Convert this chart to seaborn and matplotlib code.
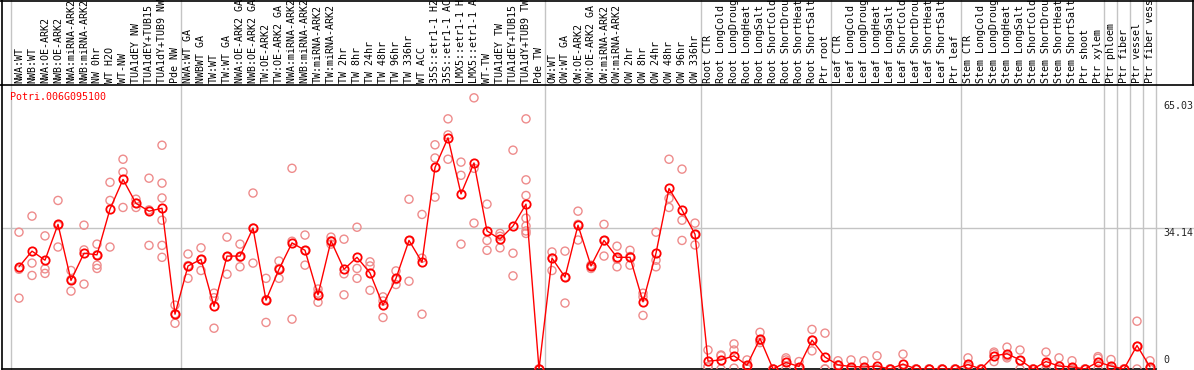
import numpy as np
import pandas as pd
import matplotlib
matplotlib.use("Agg")
import matplotlib.pyplot as plt
import matplotlib.transforms as mtransforms
from matplotlib.lines import Line2D
import seaborn as sns

gene = "Potri.006G095100"

samples = [
    "NWA:WT", "NWB:WT", "NWA:OE-ARK2", "NWB:OE-ARK2", "NWA:miRNA-ARK2", "NWB:miRNA-ARK2",
    "NW 0hr", "WT H2O", "WT-NW", "TUA1dEY NW", "TUA1dEY+TUB15 NW", "TUA1dY+TUB9 NW", "Pde NW",
    "NWA:WT GA", "NWBWT GA", "TW:WT", "TW:WT GA", "NWA:OE-ARK2 GA", "NWB:OE-ARK2 GA",
    "TW:OE-ARK2", "TW:OE-ARK2 GA", "NWA:miRNA-ARK2 GA", "NWB:miRNA-ARK2 GA", "TW:miRNA-ARK2",
    "TW:miRNA-ARK2 GA", "TW 2hr", "TW 8hr", "TW 24hr", "TW 48hr", "TW 96hr", "TW 336hr",
    "WT ACC", "35S::etr1-1 H2O", "35S::etr1-1 ACC", "LMX5::etr1-1 H2O", "LMX5::etr1-1 ACC",
    "WT-TW", "TUA1dEY TW", "TUA1dEY+TUB15 TW", "TUA1dY+TUB9 TW", "Pde TW",
    "OW:WT", "OW:WT GA", "OW:OE-ARK2", "OW:OE-ARK2 GA", "OW:miRNA-ARK2", "OW:miRNA-ARK2 GA",
    "OW 2hr", "OW 8hr", "OW 24hr", "OW 48hr", "OW 96hr", "OW 336hr",
    "Root CTR", "Root LongCold", "Root LongDrought", "Root LongHeat", "Root LongSalt",
    "Root ShortCold", "Root ShortDrought", "Root ShortHeat", "Root ShortSalt", "Ptr root",
    "Leaf CTR", "Leaf LongCold", "Leaf LongDrought", "Leaf LongHeat", "Leaf LongSalt",
    "Leaf ShortCold", "Leaf ShortDrought", "Leaf ShortHeat", "Leaf ShortSalt", "Ptr leaf",
    "Stem CTR", "Stem LongCold", "Stem LongDrought", "Stem LongHeat", "Stem LongSalt",
    "Stem ShortCold", "Stem ShortDrought", "Stem ShortHeat", "Stem ShortSalt", "Ptr shoot",
    "Ptr xylem", "Ptr phloem", "Ptr fiber", "Ptr vessel", "Ptr fiber vessel",
]

means = [
    24.8, 28.6, 26.4, 35.1, 21.5, 28.1, 27.7, 38.8, 46.0, 40.2, 38.3, 39.0, 13.3,
    25.0, 26.6, 15.2, 27.4, 27.4, 34.2, 16.7, 24.2, 30.6, 28.8, 18.0, 31.1,
    24.2, 27.1, 23.3, 15.5, 22.0, 31.2, 25.9, 48.9, 56.1, 42.5, 50.0,
    33.5, 31.5, 34.7, 40.0, 0.0,
    26.9, 22.3, 34.9, 25.0, 31.2, 27.1, 27.1, 16.3, 28.1, 43.8, 38.6, 32.7,
    1.9, 2.2, 3.2, 0.9, 7.4, 0.0, 1.6, 0.6, 7.0, 2.9,
    1.0, 0.6, 0.5, 0.7, 0.0, 1.2, 0.0, 0.0, 0.0, 0.0,
    1.1, 0.0, 3.2, 3.7, 2.2, 0.0, 1.8, 0.7, 0.5, 0.0,
    1.7, 0.7, 0.0, 5.7, 0.5,
]

replicates = [
    [33.2, 24.2, 17.2], [37.1, 25.7, 22.7], [32.3, 24.3, 23.2], [40.9, 34.8, 29.6],
    [23.9, 21.7, 18.9], [34.9, 28.9, 20.6], [30.3, 27.7, 25.2, 24.4], [45.3, 40.9, 29.6],
    [50.9, 47.8, 39.2], [41.2, 40.2, 39.2], [46.3, 38.6, 30.0],
    [54.3, 45.1, 41.5, 36.1, 30.0, 27.1], [15.5, 13.4, 11.1],
    [27.9, 25.1, 22.0], [29.4, 26.5, 23.9], [18.4, 17.3, 9.9], [32.0, 27.2, 23.0],
    [30.3, 27.1, 24.8], [42.7, 34.2, 25.7], [22.0, 16.8, 11.3], [26.2, 24.4, 22.0],
    [48.7, 31.0, 12.1], [32.5, 28.7, 25.2], [19.4, 18.4, 16.2], [32.0, 31.1, 30.3],
    [31.5, 23.1, 18.0], [34.4, 24.4, 22.0], [26.0, 25.0, 19.1], [17.5, 16.5, 12.5],
    [23.8, 21.7, 20.5], [41.2, 31.1, 21.3], [37.5, 26.9, 13.3], [54.4, 51.2, 41.7],
    [60.7, 56.8, 50.9], [50.2, 47.0, 30.3], [65.8, 48.7, 35.4],
    [40.0, 31.2, 28.8], [32.9, 32.2, 29.4], [53.1, 28.1, 22.6],
    [60.7, 45.9, 42.1, 36.6, 34.7, 33.5, 32.9], [0.0, 0.0, 0.0],
    [28.4, 26.9, 23.9], [28.6, 22.3, 16.0], [38.3, 35.1, 31.3], [25.2, 25.0, 24.4],
    [35.1, 31.1, 27.4], [29.8, 26.7, 24.8], [28.8, 27.3, 25.2], [18.4, 17.5, 13.0],
    [33.2, 26.4, 24.8], [50.9, 41.4, 39.2], [48.5, 36.1, 31.2], [35.4, 32.6, 30.1],
    [4.6, 0.6, 0.5], [3.4, 3.2, 0.0], [6.1, 4.6, 0.2], [2.2, 0.5, 0.0], [8.9, 6.9, 6.4],
    [0.0, 0.0, 0.0], [2.7, 2.2, 0.0], [1.8, 0.0, 0.0], [9.6, 7.0, 4.4], [8.7, 0.0, 0.0],
    [2.0, 1.0, 0.0], [2.2, 0.0, 0.0], [2.0, 0.0, 0.0], [3.2, 0.0, 0.0], [0.0, 0.0, 0.0],
    [3.6, 0.0, 0.0], [0.0, 0.0, 0.0], [0.0, 0.0, 0.0], [0.0, 0.0, 0.0], [0.0, 0.0, 0.0],
    [2.7, 0.6, 0.0], [0.0, 0.0, 0.0], [4.1, 3.7, 1.8], [5.3, 3.1, 2.7], [4.6, 2.0, 0.0],
    [0.0, 0.0, 0.0], [4.1, 1.3, 0.0], [2.7, 0.0, 0.0], [2.0, 0.0, 0.0], [0.0, 0.0, 0.0],
    [3.0, 2.6, 0.0], [2.3, 0.0, 0.0], [0.0, 0.0, 0.0], [11.6, 5.5, 0.0], [2.0, 0.0, 0.0],
]

# group separators (after these sample positions)
separators = [-0.6, 12.45, 40.45, 52.45, 62.45, 72.45, 83.45, 84.45, 85.45, 86.45, 87.45]

sns.set_style("white")
plt.rcParams["font.family"] = ["DejaVu Sans Mono"]
plt.rcParams["font.size"] = 7.2

W, H = 1194, 370
fig = plt.figure(figsize=(W / 100, H / 100), dpi=100)
ax_l, ax_r, ax_t, ax_b = 2, 1156, 85, 369
ax = fig.add_axes([ax_l / W, (H - ax_b) / H, (ax_r - ax_l) / W, (ax_b - ax_t) / H])

x = np.arange(len(samples))
rep_df = pd.DataFrame(
    [(i, v) for i, reps in enumerate(replicates) for v in reps], columns=["x", "value"]
)
mean_df = pd.DataFrame({"x": x, "value": means})

sns.scatterplot(data=rep_df, x="x", y="value", ax=ax, marker="o", s=34,
                facecolors="none", edgecolors="#ee8c8c", linewidths=1.0, zorder=3)
sns.lineplot(data=mean_df, x="x", y="value", ax=ax, color="red", linewidth=1.0,
             marker="o", markersize=6.0, markerfacecolor="none", markeredgecolor="red",
             markeredgewidth=1.3, zorder=4)

ax.set_xlim((19 - ax_l) / -13.0, (ax_r - 19) / 13.0)
ymax = (ax_b - ax_t) * 65.03 / (ax_b - 101)
ax.set_ylim(0, ymax)
ax.set_xticks([])
ax.set_yticks([])
ax.set_xlabel("")
ax.set_ylabel("")
for s in ["top", "right"]:
    ax.spines[s].set_visible(False)
for s in ["left", "bottom"]:
    ax.spines[s].set_color("black")
    ax.spines[s].set_linewidth(1.2)

grid_col = "#c4c4c4"
top_ext = ax_b / (ax_b - ax_t)
for sx in separators:
    ax.axvline(sx, ymin=0, ymax=top_ext, color=grid_col, lw=1, clip_on=False, zorder=1)
ax.axhline(34.14, xmin=0, xmax=(W - ax_l) / (ax_r - ax_l), color=grid_col, lw=1,
           clip_on=False, zorder=1)

# sample labels in the header strip (long ones run off the top, as in the original)
lab_tr = mtransforms.blended_transform_factory(ax.transData, ax.transAxes)
for i, name in enumerate(samples):
    ax.text(i, (ax_b - 83) / (ax_b - ax_t), name, rotation=90, ha="center", va="bottom",
            transform=lab_tr, clip_on=False, color="black")

# value labels on the right
val_tr = mtransforms.blended_transform_factory(ax.transAxes, ax.transData)
xr = (1163 - ax_l) / (ax_r - ax_l)
ax.text(xr, 65.03, "65.03", ha="left", va="top", transform=val_tr, clip_on=False)
ax.text(xr, 34.14, "34.14", ha="left", va="top", transform=val_tr, clip_on=False)
ax.text(xr, 1.0, "0", ha="left", va="bottom", transform=val_tr, clip_on=False)

fig.text(10 / W, 1 - 97 / H, gene, color="red", ha="left", va="center")

# header frame lines
def fline(x0, y0, x1, y1):
    fig.add_artist(Line2D([x0 / W, x1 / W], [1 - y0 / H, 1 - y1 / H],
                          color="black", lw=1.2, transform=fig.transFigure))

fline(0, 0.5, W, 0.5)
fline(0, 85, W, 85)
fline(W - 0.6, 0, W - 0.6, 85)
fline(ax_l, 0, ax_l, 85)

fig.savefig("out.png", dpi=100)
